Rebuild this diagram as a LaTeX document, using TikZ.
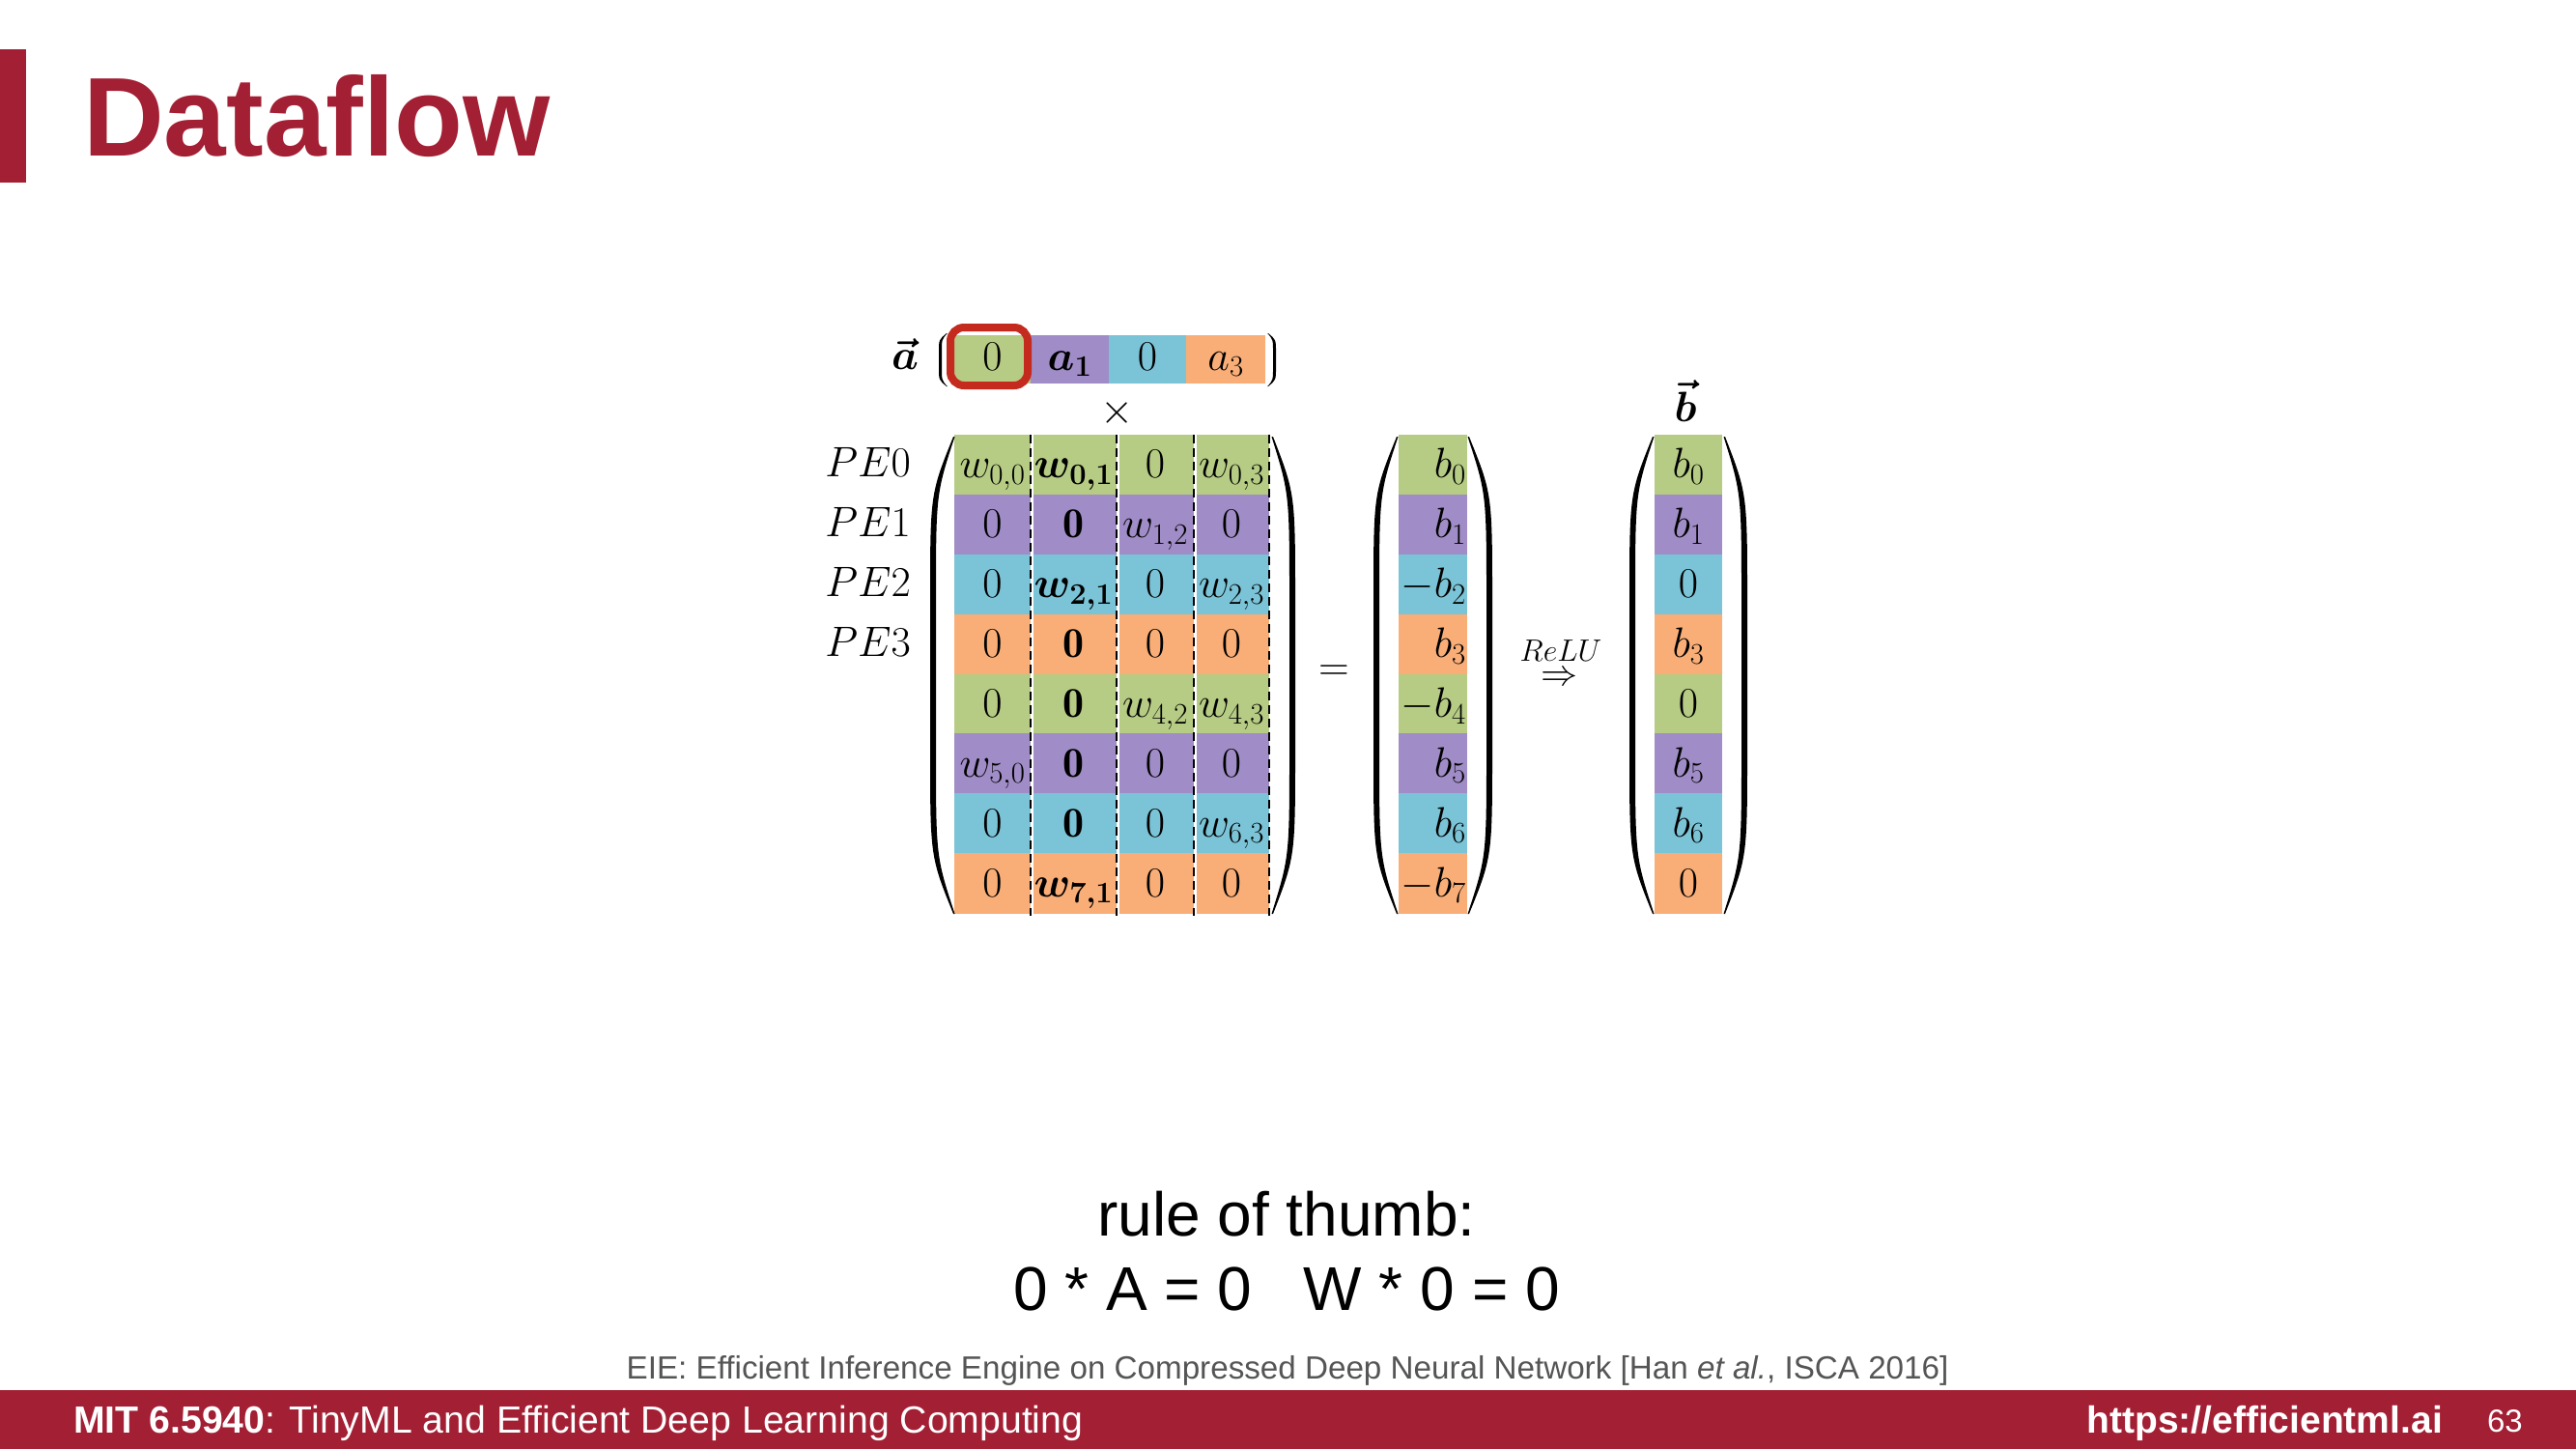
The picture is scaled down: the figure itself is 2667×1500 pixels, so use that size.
\documentclass[tikz,border=0pt]{standalone}
\usepackage{fix-cm}
\usepackage{amsmath,bm}
\usepackage{fontspec}
\newfontfamily\hv{Liberation Sans}
\definecolor{mitred}{HTML}{A31F34}
\definecolor{cg}{HTML}{B6CB84}
\definecolor{cp}{HTML}{A08CC6}
\definecolor{cb}{HTML}{7BC3D6}
\definecolor{co}{HTML}{F9AE77}
\definecolor{boxred}{HTML}{C42A1E}
\definecolor{citegray}{HTML}{555555}
% xe, xm, yt, yb, th
\newcommand\mparen[5]{%
 \fill (#1,#3) .. controls (#2,{#3+0.12*(#4-#3)}) .. (#2,{#3+0.35*(#4-#3)}) -- (#2,{#4-0.35*(#4-#3)}) .. controls (#2,{#4-0.12*(#4-#3)}) .. (#1,#4) -- ({#1+0.25*(#5)},#4) .. controls ({#2+(#5)},{#4-0.12*(#4-#3)}) .. ({#2+(#5)},{#4-0.35*(#4-#3)}) -- ({#2+(#5)},{#3+0.35*(#4-#3)}) .. controls ({#2+(#5)},{#3+0.12*(#4-#3)}) .. ({#1+0.25*(#5)},#3) -- cycle;}
\tikzset{
 ent/.style={inner sep=0, font=\fontsize{44}{50}\selectfont},
 sans/.style={inner sep=0, font=\hv\fontsize{#1}{#1}\selectfont},
}
\begin{document}
\begin{tikzpicture}[x=1pt,y=-1pt]
\useasboundingbox (0,0) rectangle (2667,1500);
\fill[white] (0,0) rectangle (2667,1500);
% title
\fill[mitred] (0,51) rectangle (27,189);
\node[inner sep=0, font=\hv\bfseries\fontsize{116}{120}\selectfont, text=mitred, anchor=base west] (title) at (86,161) {Dataflow};
% vector a
\fill[cg] (988,347) rectangle (1067,397);
\fill[cp] (1067,347) rectangle (1148,397);
\fill[cb] (1148,347) rectangle (1228,397);
\fill[co] (1228,347) rectangle (1310,397);
\node[ent,anchor=base] (alab) at (937,382) {$\bm{\vec{a}}$};
\node[ent,anchor=base] (a0) at (1027.5,383) {$0$};
\node[ent,anchor=base] (a1) at (1107.5,383) {$\bm{a_1}$};
\node[ent,anchor=base] (a2) at (1188,383) {$0$};
\node[ent,anchor=base] (a3) at (1269,383) {$a_3$};
\mparen{980}{972}{345}{400}{3}
\mparen{1313}{1321}{345}{400}{-3}
\draw[boxred,line width=8,rounded corners=14] (984,339) rectangle (1064,399);
\node[ent] (times) at (1157,427) {$\times$};
% matrix rows
\foreach \i/\c in {0/cg,1/cp,2/cb,3/co,4/cg,5/cp,6/cb,7/co}{
 \fill[\c] (988,{450+61.875*\i}) rectangle (1314,{450.5+61.875*(\i+1)});
 \fill[\c] (1448,{450+61.875*\i}) rectangle (1519,{450.5+61.875*(\i+1)});
 \fill[\c] (1713,{450+61.875*\i}) rectangle (1783,{450.5+61.875*(\i+1)});
}
\foreach \x in {1067,1156,1236,1314}{
 \draw[white,line width=2.5] (\x+1.5,450) -- (\x+1.5,948);
 \draw[black,line width=1.8,dash pattern=on 9 off 5] (\x,450) -- (\x,948);
}
\foreach \i/\ea/\eb/\ec/\ed in {
 0/{w_{0,0}}/{\bm{w_{0,1}}}/{0}/{w_{0,3}},
 1/{0}/{\mathbf{0}}/{w_{1,2}}/{0},
 2/{0}/{\bm{w_{2,1}}}/{0}/{w_{2,3}},
 3/{0}/{\mathbf{0}}/{0}/{0},
 4/{0}/{\mathbf{0}}/{w_{4,2}}/{w_{4,3}},
 5/{w_{5,0}}/{\mathbf{0}}/{0}/{0},
 6/{0}/{\mathbf{0}}/{0}/{w_{6,3}},
 7/{0}/{\bm{w_{7,1}}}/{0}/{0}}{
 \node[ent,anchor=base] (m\i-0) at (1027.5,{450+61.875*(\i+0.5)+14}) {$\ea$};
 \node[ent,anchor=base] (m\i-1) at (1111.5,{450+61.875*(\i+0.5)+14}) {$\eb$};
 \node[ent,anchor=base] (m\i-2) at (1196,{450+61.875*(\i+0.5)+14}) {$\ec$};
 \node[ent,anchor=base] (m\i-3) at (1275,{450+61.875*(\i+0.5)+14}) {$\ed$};
}
\foreach \i in {0,1,2,3}{
 \node[ent,anchor=base east] (pe\i) at (943,{450+61.875*(\i+0.5)+13}) {$PE\i$};
}
\mparen{987}{963}{452}{946}{6}
\mparen{1318}{1341}{452}{946}{-6}
\node[ent] (eq) at (1381,697) {$=$};
% b column
\foreach \i/\v in {0/{b_0},1/{b_1},2/{-b_2},3/{b_3},4/{-b_4},5/{b_5},6/{b_6},7/{-b_7}}{
 \node[ent,anchor=base east] (b\i) at (1518,{450+61.875*(\i+0.5)+14}) {$\v$};
}
\mparen{1446}{1422}{452}{946}{6}
\mparen{1521}{1545}{452}{946}{-6}
\node[inner sep=0, font=\fontsize{32}{35}\selectfont, anchor=base] (relu) at (1616,684) {$ReLU$};
\node[inner sep=0, font=\fontsize{38}{42}\selectfont] (imp) at (1614,703) {$\Rightarrow$};
% b vec column
\foreach \i/\v in {0/{b_0},1/{b_1},2/{0},3/{b_3},4/{0},5/{b_5},6/{b_6},7/{0}}{
 \node[ent,anchor=base] (c\i) at (1748,{450+61.875*(\i+0.5)+14}) {$\v$};
}
\mparen{1711}{1687}{452}{946}{6}
\mparen{1786}{1809}{452}{946}{-6}
\node[ent,anchor=base] (blab) at (1745,436) {$\bm{\vec{b}}$};
% rule of thumb
\node[sans=64, anchor=base] (rule1) at (1332,1279) {rule of thumb:};
\node[sans=64, anchor=base] (rule2) at (1332,1356) {0 * A = 0 \ \ W * 0 = 0};
% citation
\node[sans=33.2, text=citegray, anchor=base] (cite) at (1333,1427) {EIE: Efficient Inference Engine on Compressed Deep Neural Network [Han \textit{et al.}, ISCA 2016]};
% footer
\fill[mitred] (0,1439) rectangle (2667,1500);
\node[sans=39.2, text=white, anchor=base west] (foot) at (76,1483) {\textbf{MIT 6.5940}: TinyML and Efficient Deep Learning Computing};
\node[sans=39, text=white, anchor=base east] (url) at (2529,1483) {\textbf{https://efficientml.ai}};
\node[sans=33, text=white, anchor=base east] (page) at (2612,1482) {63};
\end{tikzpicture}
\end{document}
